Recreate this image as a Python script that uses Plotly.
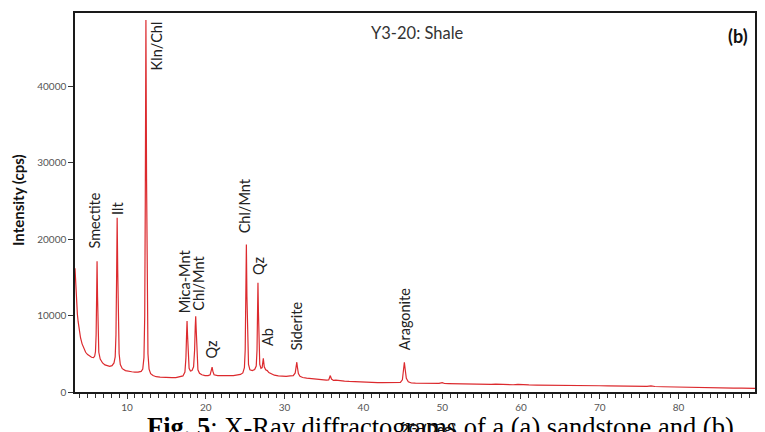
import plotly.graph_objects as go

# ---------------- data ----------------
two_theta = [
    3.40, 3.50, 3.60, 3.70, 3.80, 3.95, 4.10, 4.30, 4.50, 4.75, 5.00, 5.25, 5.50, 5.75, 5.90,
    6.00, 6.08, 6.14, 6.20, 6.26, 6.32, 6.42, 6.60, 6.90, 7.20, 7.50, 7.80, 8.10, 8.35, 8.50,
    8.60, 8.68, 8.75, 8.82, 8.90, 9.00, 9.15, 9.40, 9.80, 10.2, 10.6, 11.0, 11.4, 11.8, 12.0,
    12.15, 12.25, 12.32, 12.40, 12.48, 12.56, 12.66, 12.80, 13.00, 13.3, 13.7, 14.2, 14.7, 15.2, 15.7,
    16.2, 16.7, 17.1, 17.35, 17.48, 17.56, 17.62, 17.68, 17.76, 17.88, 18.05, 18.25, 18.45, 18.58, 18.66,
    18.72, 18.78, 18.86, 19.00, 19.2, 19.5, 19.9, 20.3, 20.55, 20.70, 20.80, 20.90, 21.05, 21.5, 22.0,
    22.5, 23.0, 23.5, 24.0, 24.4, 24.7, 24.9, 25.0, 25.08, 25.15, 25.22, 25.30, 25.42, 25.6, 25.9,
    26.2, 26.4, 26.5, 26.56, 26.62, 26.68, 26.75, 26.85, 27.0, 27.15, 27.30, 27.42, 27.6, 27.8, 28.0,
    28.3, 28.7, 29.2, 29.7, 30.2, 30.7, 31.1, 31.35, 31.48, 31.55, 31.62, 31.75, 31.95, 32.3, 32.8,
    33.3, 33.8, 34.3, 34.8, 35.3, 35.6, 35.8, 35.95, 36.2, 36.5, 37.0, 37.6, 38.2, 38.8, 39.4,
    40.0, 40.6, 41.2, 41.8, 42.4, 43.0, 43.6, 44.2, 44.7, 44.95, 45.1, 45.2, 45.3, 45.45, 45.7,
    46.1, 46.6, 47.2, 47.8, 48.4, 49.0, 49.6, 50.0, 50.3, 50.8, 51.5, 52.2, 53.0, 53.8, 54.6,
    55.4, 56.2, 56.8, 57.4, 58.2, 59.0, 59.6, 60.2, 61.0, 62.0, 63.0, 64.0, 65.0, 66.0, 66.5,
    67.0, 68.0, 69.0, 70.0, 71.0, 72.0, 73.0, 74.0, 75.0, 76.0, 76.5, 77.0, 78.0, 79.0, 80.0,
    81.0, 82.0, 83.0, 84.0, 85.0, 86.0, 87.0, 88.0, 89.0, 89.7,
]
intensity = [
    16200, 13500, 11500, 10200, 9200, 8000, 7100, 6300, 5700, 5200, 4900, 4700, 4550, 4500, 4700,
    5300, 7500, 12000, 17100, 12500, 7600, 5200, 4300, 3800, 3550, 3400, 3350, 3450, 3800, 4600,
    7500, 15000, 22800, 16000, 8500, 5000, 3600, 3050, 2800, 2700, 2650, 2600, 2600, 2700, 3000,
    4500, 10000, 25000, 48700, 28000, 11000, 5000, 3000, 2400, 2150, 2000, 1950, 1900, 1880, 1870,
    1880, 1950, 2100, 2600, 4500, 7500, 9300, 7500, 4400, 3100, 2750, 2800, 3300, 5500, 8500,
    9900, 8200, 4800, 2900, 2450, 2250, 2150, 2150, 2250, 2700, 3250, 2700, 2250, 2150, 2120,
    2100, 2150, 2150, 2200, 2300, 2500, 3200, 5500, 11500, 19300, 12500, 6000, 3600, 2900, 2800,
    2950, 3400, 5500, 10000, 14300, 10500, 5500, 3600, 3100, 3200, 4400, 3300, 2900, 2800, 2550,
    2350, 2200, 2100, 2050, 2050, 2100, 2150, 2500, 3400, 3900, 3300, 2400, 2050, 1900, 1820,
    1750, 1700, 1650, 1600, 1560, 1580, 2150, 1700, 1520, 1560, 1480, 1430, 1390, 1350, 1300,
    1270, 1250, 1240, 1230, 1220, 1210, 1200, 1190, 1250, 1600, 2700, 3900, 3000, 1800, 1350,
    1180, 1150, 1140, 1130, 1120, 1110, 1120, 1230, 1110, 1090, 1070, 1060, 1050, 1040, 1030,
    1020, 1000, 1040, 990, 970, 950, 990, 940, 920, 910, 900, 890, 880, 900, 950,
    870, 850, 840, 820, 800, 780, 760, 740, 730, 740, 790, 720, 690, 660, 640,
    620, 600, 590, 570, 550, 530, 510, 500, 480, 470,
]

peak_labels = ["Smectite", "Ilt", "Kln/Chl", "Mica-Mnt", "Chl/Mnt", "Qz", "Chl/Mnt", "Qz", "Ab", "Siderite", "Aragonite"]
label_theta = [5.93, 8.71, 13.78, 17.32, 18.96, 20.75, 24.91, 26.68, 27.80, 31.50, 45.17]
label_cps = [18500, 22950, 48800, 10000, 10400, 4100, 20500, 15100, 5800, 5150, 5150]

x_ticks = [10, 20, 30, 40, 50, 60, 70, 80]
y_ticks = [0, 10000, 20000, 30000, 40000]

LABEL_FONT = "Lato, Open Sans, sans-serif"

fig = go.Figure()
fig.add_trace(go.Scatter(
    x=two_theta, y=intensity, mode="lines",
    line=dict(color="#dc2a2e", width=1.2), showlegend=False, hoverinfo="skip",
))

annotations = []
for txt, tx, ty in zip(peak_labels, label_theta, label_cps):
    annotations.append(dict(
        x=tx, y=ty, xref="x", yref="y", text=txt, showarrow=False, textangle=-90,
        xanchor="center", yanchor="top" if txt == "Kln/Chl" else "bottom",
        font=dict(family=LABEL_FONT, size=14.5, color="#222222"),
    ))

# sample title and panel tag
annotations.append(dict(x=0.503, y=0.947, xref="paper", yref="paper", text="Y3-20: Shale",
                        showarrow=False, xanchor="center", yanchor="middle",
                        font=dict(family=LABEL_FONT, size=16.5, color="#333333")))
annotations.append(dict(x=0.975, y=0.939, xref="paper", yref="paper", text="<b>(b)</b>",
                        showarrow=False, xanchor="center", yanchor="middle",
                        font=dict(family=LABEL_FONT, size=18, color="#111111")))
# y axis title
annotations.append(dict(x=-0.0836, y=0.507, xref="paper", yref="paper", text="<b>Intensity (cps)</b>",
                        showarrow=False, textangle=-90, xanchor="center", yanchor="middle",
                        font=dict(family=LABEL_FONT, size=15, color="#111111")))
# figure caption (cut off by the bottom edge)
annotations.append(dict(x=0.1026, y=-0.0923, xref="paper", yref="paper",
                        text="<b>Fig. 5</b>: X-Ray diffractograms of a (a) sandstone and (b)",
                        showarrow=False, xanchor="left", yanchor="middle",
                        font=dict(family="Liberation Serif, Times New Roman, serif", size=26.5, color="#000000")))
# x axis title
annotations.append(dict(x=0.519, y=-0.0976, xref="paper", yref="paper", text="<b>2Θ (Deg)</b>",
                        showarrow=False, xanchor="center", yanchor="middle",
                        font=dict(family=LABEL_FONT, size=13.5, color="#111111")))

fig.update_layout(
    width=765, height=432,
    margin=dict(l=75, r=8, t=13, b=40),
    paper_bgcolor="white", plot_bgcolor="white",
    annotations=annotations,
    showlegend=False,
)
fig.update_xaxes(
    range=[3.4, 89.7], tickmode="array", tickvals=x_ticks,
    ticks="outside", ticklen=5, tickwidth=1, tickcolor="#333333",
    minor=dict(dtick=1, tick0=0, ticks="outside", ticklen=4, tickcolor="#333333", tickwidth=1),
    showline=True, linecolor="#1a1a1a", linewidth=1.5, mirror=True,
    showgrid=False, zeroline=False,
    tickfont=dict(family=LABEL_FONT, size=10, color="#555555"),
)
fig.update_yaxes(
    range=[0, 49600], tickmode="array", tickvals=y_ticks, tickformat="d",
    ticks="outside", ticklen=5, tickwidth=1, tickcolor="#333333",
    showline=True, linecolor="#1a1a1a", linewidth=1.5, mirror=True,
    showgrid=False, zeroline=False,
    tickfont=dict(family=LABEL_FONT, size=10, color="#555555"),
)

fig.write_html("out.html")
